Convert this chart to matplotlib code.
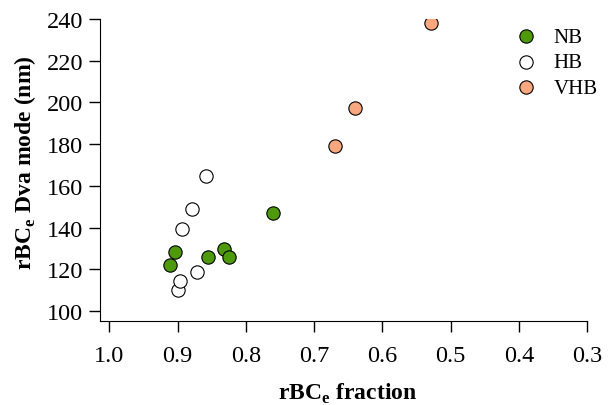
import matplotlib
matplotlib.use("Agg")
from matplotlib import pyplot as plt

plt.rcParams['font.family'] = ['Liberation Serif', 'DejaVu Serif']
plt.rcParams['mathtext.fontset'] = 'custom'
plt.rcParams['mathtext.rm'] = 'Liberation Serif'
plt.rcParams['mathtext.bf'] = 'Liberation Serif:bold'

# data
nbFraction = [0.911, 0.904, 0.856, 0.832, 0.824, 0.761]
nbMode = [122.1, 128.1, 126.0, 129.6, 126.0, 147.1]
hbFraction = [0.899, 0.897, 0.871, 0.893, 0.879, 0.859]
hbMode = [110.2, 114.4, 118.6, 139.3, 148.9, 164.7]
vhbFraction = [0.529, 0.640, 0.670]
vhbMode = [237.9, 197.5, 179.1]

xTicks = [1.0, 0.9, 0.8, 0.7, 0.6, 0.5, 0.4, 0.3]
yTicks = [100, 120, 140, 160, 180, 200, 220, 240]

fig = plt.figure(figsize=(6.14, 4.06), dpi=100)
ax = fig.add_axes([0.1629, 0.2069, 0.7936, 0.7438])

#Scatter groups
markerSize = 92
ax.scatter(nbFraction, nbMode, s=markerSize, color='#4e9a0c', edgecolor='black', linewidth=0.8, label='NB', zorder=3)
ax.scatter(hbFraction, hbMode, s=markerSize, color='white', edgecolor='black', linewidth=0.8, label='HB', zorder=3)
ax.scatter(vhbFraction, vhbMode, s=markerSize, color='#f9a77f', edgecolor='black', linewidth=0.8, label='VHB', zorder=3)

#Axes configuration
ax.set_xlim(1.0136, 0.3)
ax.set_ylim(95.2, 240)
ax.set_xticks(xTicks)
ax.set_xticklabels(['%.1f' % t for t in xTicks])
ax.set_yticks(yTicks)
ax.spines['top'].set_visible(False)
ax.spines['right'].set_visible(False)
ax.tick_params(direction='out', length=8, width=1, labelsize=17.5, color='black')
ax.tick_params(axis='x', pad=9.5)
ax.tick_params(axis='y', pad=4)

ax.set_xlabel(r'rBC$_{\mathbf{e}}$ fraction', fontsize=17, fontweight='bold')
ax.set_ylabel(r'rBC$_{\mathbf{e}}$ Dva mode (nm)', fontsize=17, fontweight='bold')
ax.xaxis.set_label_coords(0.509, -0.197)
ax.yaxis.set_label_coords(-0.127, 0.526)

ax.legend(loc='upper left', frameon=False, fontsize=15, handletextpad=0.3,
          labelspacing=0.28, bbox_to_anchor=(0.815, 1.0), borderaxespad=0.0)

fig.savefig('out.png', dpi=100)
